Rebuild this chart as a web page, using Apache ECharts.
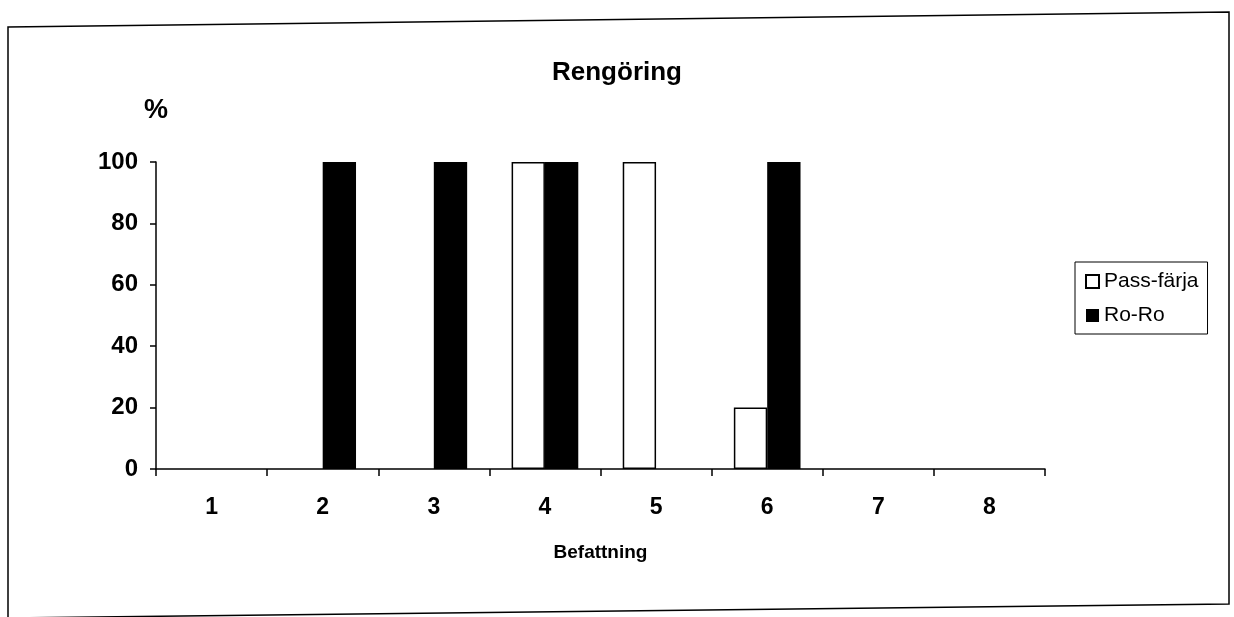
<!DOCTYPE html>
<html>
<head>
<meta charset="utf-8">
<script src="https://cdn.jsdelivr.net/npm/echarts@6/dist/echarts.min.js"></script>
<style>
  html, body { margin: 0; padding: 0; background: #fff; }
  #chart { width: 1234px; height: 617px; }
</style>
</head>
<body>
<div id="chart"></div>
<script>
// Befattning categories and share (%) per vessel type
const categories = ['1', '2', '3', '4', '5', '6', '7', '8'];
const passFarja = [0, 0, 0, 100, 100, 20, 0, 0];
const roRo = [0, 100, 100, 100, 0, 100, 0, 0];
const yTicks = [0, 20, 40, 60, 80, 100];

const FONT = '"Liberation Sans", Arial, Helvetica, sans-serif';

// zero values get no outline so nothing is drawn on the baseline
const toItems = (arr) => arr.map(v => (v === 0 ? { value: v, itemStyle: { borderWidth: 0 } } : v));

const chart = echarts.init(document.getElementById('chart'), null, { renderer: 'canvas' });

chart.setOption({
  backgroundColor: '#ffffff',
  animation: false,
  title: {
    text: 'Rengöring',
    left: 'center',
    top: 55,
    textStyle: { fontFamily: FONT, fontSize: 26, fontWeight: 'bold', color: '#000' }
  },
  graphic: [{
    type: 'polygon',
    shape: { points: [[8, 27], [1229, 12], [1229, 604], [8, 618]] },
    style: { fill: 'none', stroke: '#000', lineWidth: 1.5 },
    silent: true,
    z: -1
  }],
  legend: {
    orient: 'vertical',
    left: 1075,
    top: 262,
    data: ['Pass-färja', 'Ro-Ro'],
    icon: 'rect',
    itemWidth: 13,
    itemHeight: 13,
    itemGap: 13,
    padding: [9, 9, 8, 10],
    borderColor: '#000',
    borderWidth: 1,
    textStyle: { fontFamily: FONT, fontSize: 21, color: '#000', padding: [0, 0, 0, 0] }
  },
  grid: {
    left: 156,
    right: 189,
    top: 162,
    bottom: 148,
    containLabel: false
  },
  xAxis: {
    type: 'category',
    data: categories,
    name: 'Befattning',
    nameLocation: 'middle',
    nameGap: 74,
    nameTextStyle: { fontFamily: FONT, fontSize: 19, fontWeight: 'bold', color: '#000' },
    axisLine: { lineStyle: { color: '#000', width: 1.5 } },
    axisTick: { show: true, alignWithLabel: false, length: 7, lineStyle: { color: '#000', width: 1.5 } },
    axisLabel: { margin: 27, fontFamily: FONT, fontSize: 23, fontWeight: 'bold', color: '#000' },
    splitLine: { show: false }
  },
  yAxis: {
    type: 'value',
    min: 0,
    max: 100,
    interval: 20,
    name: '%',
    nameLocation: 'end',
    nameGap: 38,
    nameTextStyle: { fontFamily: FONT, fontSize: 27, fontWeight: 'bold', color: '#000', align: 'center' },
    axisLine: { show: true, lineStyle: { color: '#000', width: 1.5 } },
    axisTick: { show: true, length: 6, lineStyle: { color: '#000', width: 1.5 } },
    axisLabel: {
      margin: 18,
      fontFamily: FONT, fontSize: 24, fontWeight: 'bold', color: '#000',
      formatter: v => (yTicks.includes(v) ? String(v) : '')
    },
    splitLine: { show: false }
  },
  series: [
    {
      name: 'Pass-färja',
      type: 'bar',
      data: toItems(passFarja),
      barGap: '0%',
      barCategoryGap: '40%',
      itemStyle: { color: '#ffffff', borderColor: '#000', borderWidth: 1.5 }
    },
    {
      name: 'Ro-Ro',
      type: 'bar',
      data: toItems(roRo),
      barGap: '0%',
      barCategoryGap: '40%',
      itemStyle: { color: '#000000', borderColor: '#000', borderWidth: 0 }
    }
  ]
});
</script>
</body>
</html>
